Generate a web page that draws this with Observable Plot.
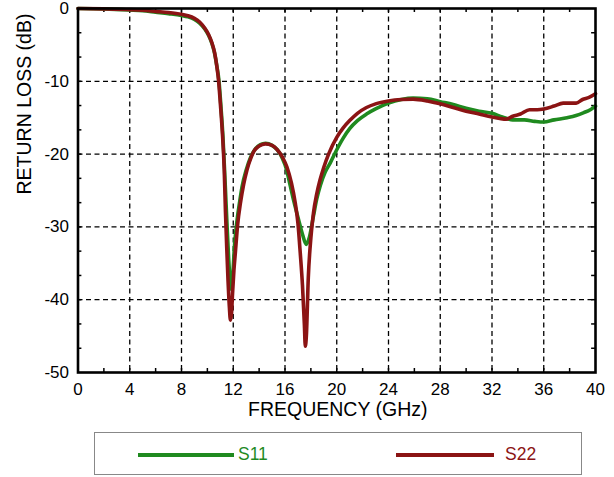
<!DOCTYPE html>
<html>
<head>
<meta charset="utf-8">
<script src="https://cdn.jsdelivr.net/npm/d3@7"></script>
<script src="https://cdn.jsdelivr.net/npm/@observablehq/plot@0.6"></script>
<style>
  html, body { margin: 0; padding: 0; background: #fff; }
  body { position: relative; width: 614px; height: 477px; overflow: hidden; font-family: "Liberation Sans", Arial, sans-serif; }
  #legend { position: absolute; left: 94px; top: 432px; width: 488px; height: 43px; border: 1px solid #888; box-sizing: border-box; }
  .lg-line { position: absolute; height: 4px; top: 20px; }
  .lg-text { position: absolute; top: 11px; font-size: 17.5px; line-height: 20px; }
</style>
</head>
<body>
<div id="chart"></div>
<div id="legend">
  <div class="lg-line" style="left:43px;width:96px;background:#1f8a1f;"></div>
  <div class="lg-text" style="left:143px;color:#1f8a1f;">S11</div>
  <div class="lg-line" style="left:301px;width:98px;background:#8b1414;"></div>
  <div class="lg-text" style="left:410px;color:#8b1414;">S22</div>
</div>
<script>
const xTicks = [0, 4, 8, 12, 16, 20, 24, 28, 32, 36, 40];
const yTicks = [0, -10, -20, -30, -40, -50];
const xMinor = [2, 4, 6, 8, 10, 12, 14, 16, 18, 20, 22, 24, 26, 28, 30, 32, 34, 36, 38];
const yMinor = [-3.33, -6.67, -10, -13.33, -16.67, -20, -23.33, -26.67, -30, -33.33, -36.67, -40, -43.33, -46.67];

const freqS11 = [0, 2, 4, 5, 6, 7, 8, 8.5, 9, 9.4, 9.8, 10.1, 10.35, 10.55, 10.72, 10.9, 11.05, 11.2, 11.35, 11.5, 11.65, 11.78, 11.85, 11.95, 12.1, 12.3, 12.5, 12.68, 13.0, 13.35, 13.7, 14.1, 14.5, 15.0, 15.4, 15.8, 16.1, 16.4, 16.7, 17.05, 17.35, 17.65, 17.9, 18.2, 18.45, 18.73, 19.1, 19.5, 20.0, 20.5, 21.0, 21.6, 22.3, 23.0, 24.0, 25.0, 25.9, 27.0, 28.0, 29.0, 30.0, 31.0, 32.0, 32.8, 33.6, 34.5, 35.3, 36.0, 36.8, 37.8, 38.5, 39.1, 39.6, 40];
const s11 = [0, -0.05, -0.2, -0.3, -0.5, -0.7, -0.95, -1.15, -1.5, -2.0, -2.8, -3.7, -4.8, -6.1, -7.8, -10, -13.5, -17.5, -23, -29, -34.5, -37.8, -38.6, -37, -32.5, -29, -26.5, -24.5, -22.2, -20.4, -19.3, -18.7, -18.5, -18.8, -19.4, -20.6, -22.0, -24.3, -26.6, -29, -31, -32.4, -31.3, -28.5, -26.2, -24.3, -22.5, -21.2, -19.4, -17.8, -16.5, -15.4, -14.5, -13.8, -13.0, -12.5, -12.3, -12.4, -12.8, -13.2, -13.7, -14.1, -14.4, -14.9, -15.3, -15.3, -15.5, -15.6, -15.3, -15.0, -14.7, -14.3, -13.9, -13.4];

const freqS22 = [0, 2, 4, 5, 6, 7, 8, 8.5, 9, 9.4, 9.8, 10.1, 10.35, 10.55, 10.72, 10.87, 11.0, 11.15, 11.3, 11.4, 11.5, 11.6, 11.7, 11.78, 11.86, 11.95, 12.05, 12.16, 12.35, 12.55, 12.8, 13.06, 13.35, 13.6, 14.0, 14.48, 15.0, 15.4, 15.8, 16.15, 16.5, 16.8, 17.0, 17.18, 17.35, 17.5, 17.57, 17.65, 17.8, 18.0, 18.2, 18.45, 18.7, 19.0, 19.37, 20.0, 20.5, 21.0, 21.6, 22.3, 23.0, 24.0, 25.0, 25.9, 27.0, 28.0, 29.0, 30.0, 31.0, 32.0, 32.6, 33.1, 33.6, 34.2, 34.9, 35.5, 36.0, 36.8, 37.5, 38.0, 38.5, 39.0, 39.5, 40];
const s22 = [0, -0.05, -0.15, -0.25, -0.4, -0.55, -0.8, -1.0, -1.35, -1.85, -2.7, -3.6, -4.7, -6.0, -7.8, -10, -13, -16.8, -22, -28, -33, -37.5, -41, -42.8, -42, -39, -36, -33.6, -29.5, -26.8, -24.2, -22.2, -20.6, -19.6, -18.9, -18.6, -18.8, -19.4, -20.4, -21.8, -24, -26.8, -29.5, -33.6, -38, -43.5, -46.4, -45, -37, -31.5, -28.1, -25.5, -23.6, -21.8, -20, -17.7, -16.4, -15.4, -14.4, -13.6, -13.1, -12.7, -12.5, -12.45, -12.7, -13.1, -13.6, -14.1, -14.5, -14.9, -15.1, -15.2, -14.8, -14.5, -13.9, -13.9, -13.8, -13.4, -13.0, -13.0, -13.0, -12.5, -12.2, -11.7];

const dataS11 = freqS11.map((f, i) => ({f, v: s11[i]}));
const dataS22 = freqS22.map((f, i) => ({f, v: s22[i]}));

const green = "#1f8a1f";
const red = "#8b1414";

const plot = Plot.plot({
  width: 614,
  height: 430,
  marginLeft: 77.5,
  marginRight: 19,
  marginTop: 8,
  marginBottom: 58,
  style: { fontFamily: "'Liberation Sans', Arial, sans-serif", color: "#000", background: "transparent" },
  x: { domain: [0, 40], label: null },
  y: { domain: [-50, 0], label: null },
  marks: [
    Plot.ruleX(xTicks.slice(1, -1), { x: d => d, stroke: "#000", strokeWidth: 1.3, strokeDasharray: "5,3.5" }),
    Plot.ruleY(yTicks.slice(1, -1), { y: d => d, stroke: "#000", strokeWidth: 1.3, strokeDasharray: "5,3.5" }),
    Plot.ruleX(xMinor, { x: d => d, y1: -50, y2: -49.45, stroke: "#000", strokeWidth: 1.5 }),
    Plot.ruleX(xMinor, { x: d => d, y1: 0, y2: -0.55, stroke: "#000", strokeWidth: 1.5 }),
    Plot.ruleY(yMinor, { y: d => d, x1: 0, x2: 0.3, stroke: "#000", strokeWidth: 1.5 }),
    Plot.ruleY(yMinor, { y: d => d, x1: 40, x2: 39.7, stroke: "#000", strokeWidth: 1.5 }),
    Plot.line(dataS11, { x: "f", y: "v", stroke: green, strokeWidth: 3.6, curve: "monotone-x" }),
    Plot.line(dataS22, { x: "f", y: "v", stroke: red, strokeWidth: 3.6, curve: "monotone-x" }),
    Plot.frame({ stroke: "#000", strokeWidth: 2.6 }),
    Plot.axisX(xTicks, { tickSize: 0, tickPadding: 10, fontSize: 17, label: null, tickFormat: d => String(d) }),
    Plot.axisY(yTicks, { tickSize: 0, tickPadding: 9, fontSize: 17, label: null, tickFormat: d => String(d) }),
    Plot.text(["FREQUENCY (GHz)"], { frameAnchor: "bottom", text: d => d, dy: 43, fontSize: 19.5, lineAnchor: "bottom", dx: 1, style: "letter-spacing:1px" }),
    Plot.text(["RETURN LOSS (dB)"], { frameAnchor: "left", text: d => d, rotate: -90, dx: -53, dy: 4, fontSize: 19.5, lineAnchor: "middle" })
  ]
});
document.getElementById("chart").appendChild(plot);
</script>
</body>
</html>
